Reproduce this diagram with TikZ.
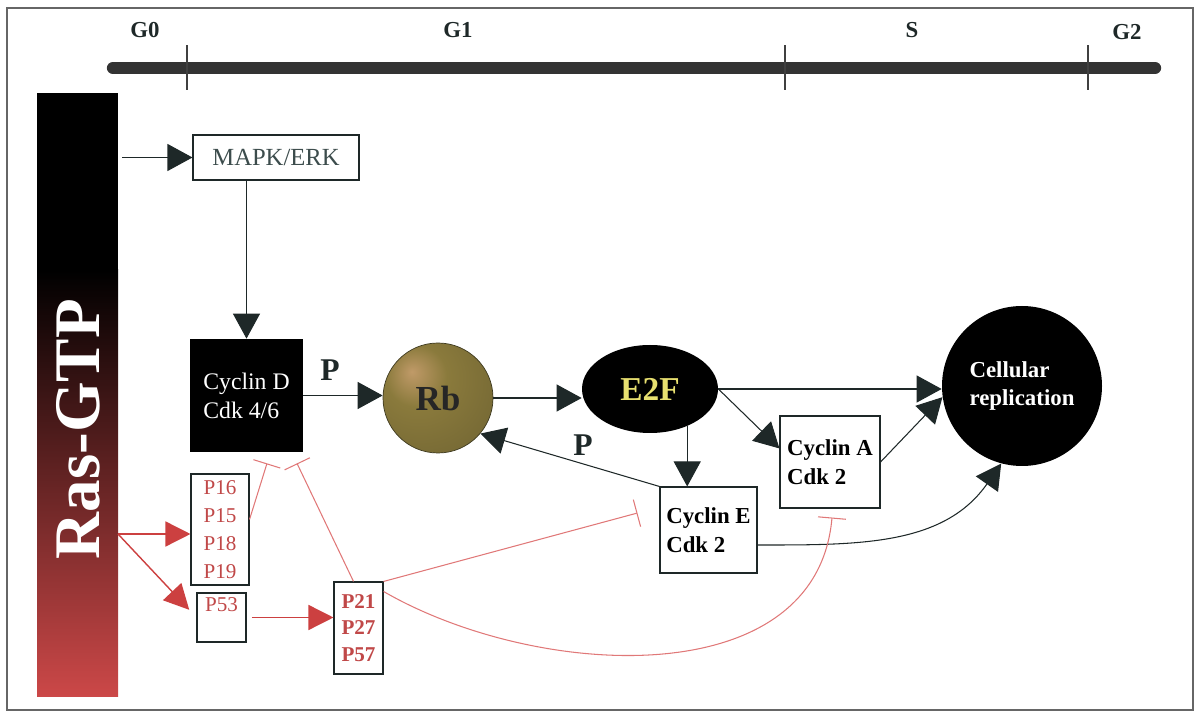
\documentclass[tikz,border=0pt]{standalone}
\usepackage{fontspec}
\setmainfont{Liberation Serif}
\usepackage{tikz}
\usetikzlibrary{arrows.meta,shapes.geometric}

\definecolor{inkdark}{HTML}{1E2828}
\definecolor{mapkgrey}{HTML}{3C4C4C}
\definecolor{redtxt}{HTML}{C04848}
\definecolor{redarr}{HTML}{CC4040}
\definecolor{pinkline}{HTML}{E07878}
\definecolor{rbhi}{HTML}{C09A68}
\definecolor{rbmid}{HTML}{8A7A3C}
\definecolor{rbdark}{HTML}{3E3A20}
\definecolor{e2fyellow}{HTML}{E8E070}
\definecolor{rasred}{HTML}{CC4848}
\definecolor{rasmid}{HTML}{5A1212}
\pgfdeclareradialshading{rbball}{\pgfpoint{-12bp}{12bp}}{color(0bp)=(rbhi); color(14bp)=(rbmid); color(40bp)=(rbmid!70!rbdark); color(62bp)=(rbdark); color(80bp)=(rbdark)}

\begin{document}
\begin{tikzpicture}[
  act/.style={draw=inkdark, line width=0.6pt, -{Triangle[length=0.5cm,width=0.54cm]}},
  redact/.style={draw=redarr, line width=0.8pt, -{Triangle[length=0.5cm,width=0.5cm]}},
  inhib/.style={draw=pinkline, line width=0.6pt, -{Bar[width=0.56cm,line width=0.6pt]}},
  box/.style={draw=inkdark, line width=0.6pt, rectangle, inner sep=2pt},
  redbox/.style={box, text=redtxt, align=center, font=\fontsize{12}{16}\selectfont},
  cyclin/.style={box, align=left, font=\bfseries\fontsize{13}{16.5}\selectfont},
  phase/.style={font=\bfseries\fontsize{13}{15}\selectfont, text=inkdark},
  plabel/.style={font=\bfseries\fontsize{18}{20}\selectfont, text=inkdark}
]
\useasboundingbox (0,0) rectangle (23.98,14.4);
\draw[black!60, line width=0.8pt] (0.14,0.2) rectangle (23.86,14.24);

% cell cycle phases
\draw[black!80, line width=7pt, line cap=round] (2.26,13.04) -- (23.1,13.04);
\foreach \x in {3.74,15.7,21.76}
  \draw[black!75, line width=0.6pt] (\x,12.6) -- (\x,13.5);
\node[phase] (g0) at (2.9,13.8) {G0};
\node[phase] (g1) at (9.16,13.8) {G1};
\node[phase] (s) at (18.24,13.8) {S};
\node[phase] (g2) at (22.54,13.76) {G2};

% Ras-GTP bar
\fill[black] (0.74,8.98) rectangle (2.36,12.54);
\shade[top color=black, middle color=rasmid, bottom color=rasred] (0.74,0.46) rectangle (2.36,9.0);
\node[rotate=90, text=white, font=\bfseries\fontsize{37}{40}\selectfont] (ras) at (1.56,5.82) {Ras-GTP};
\coordinate (rasmapk) at (2.44,11.25);
\coordinate (rasp) at (2.36,3.72);

% nodes
\node[box, text=mapkgrey, minimum width=3.32cm, minimum height=0.9cm, font=\fontsize{14}{16}\selectfont] (mapk) at (5.52,11.25) {MAPK/ERK};
\node[fill=black, minimum size=2.26cm, align=left, text=white, font=\fontsize{13.5}{16.5}\selectfont] (cycd) at (4.93,6.49) {Cyclin D\\Cdk 4/6};
\node[circle, shading=rbball, draw=rbdark, minimum size=2.2cm, text=black!85, font=\bfseries\fontsize{20}{22}\selectfont] (rb) at (8.76,6.44) {Rb};
\node[ellipse, fill=black, minimum width=2.72cm, minimum height=1.76cm, text=e2fyellow, font=\bfseries\fontsize{19}{21}\selectfont] (e2f) at (13.0,6.62) {E2F};
\node[cyclin, minimum width=1.94cm, minimum height=1.72cm] (cyce) at (14.17,3.8) {Cyclin E\\Cdk 2};
\node[cyclin, minimum width=2.0cm, minimum height=1.84cm] (cyca) at (16.6,5.16) {Cyclin A\\Cdk 2};
\node[circle, fill=black, minimum size=3.2cm, text=white, align=left, font=\bfseries\fontsize{13}{16}\selectfont] (cell) at (20.44,6.68) {Cellular\\replication};
\node[redbox, minimum width=1.16cm, minimum height=2.22cm] (p16) at (4.4,3.81) {P16\\P15\\P18\\P19};
\node[redbox, minimum width=0.98cm, minimum height=0.98cm, text depth=0.5cm] (p53) at (4.43,2.05) {P53};
\node[redbox, minimum width=0.98cm, minimum height=1.84cm, font=\bfseries\fontsize{12}{15}\selectfont] (p21) at (7.17,1.84) {P21\\P27\\P57};

% activation
\draw[act] (rasmapk) -- (mapk.west);
\draw[act] (mapk.south -| cycd.north) -- (cycd.north);
\draw[act] (cycd.east) -- (cycd.east -| rb.west);
\node[plabel] (pd) at (6.6,7.0) {P};
\draw[act] (rb.east) -- (rb.east -| e2f.west);
\draw[act] (e2f.-45) -- (e2f.-45 |- cyce.north);
\draw[act] (cyce.north west) -- (rb.-40);
\node[plabel] (pe) at (11.66,5.5) {P};
\draw[act] (e2f.east) -- (e2f.east -| cell.west);
\draw[act] (e2f.east) -- (cyca.165);
\draw[act] (cyca.east) -- (cell.188);
\draw[act] ([yshift=-0.3cm]cyce.east) to[out=0, in=235] (cell.255);

% red arrows
\draw[redact] (rasp) -- (rasp -| p16.west);
\draw[redact, shorten >=6pt] (rasp) -- (p53.west);
\draw[redact, shorten <=3pt] (p53.east) -- (p53.east -| p21.west);

% inhibition
\draw[inhib] ([yshift=0.2cm]p16.east) -- ([xshift=0.41cm,yshift=-0.22cm]cycd.south);
\draw[inhib] ([xshift=-0.1cm]p21.north) -- ([xshift=1.01cm,yshift=-0.22cm]cycd.south);
\draw[inhib] (p21.north east) -- ([xshift=-0.44cm,yshift=0.34cm]cyce.west);
\draw[inhib] ([yshift=-0.2cm]p21.north east) to[out=-30, in=-95] ([xshift=0.04cm,yshift=-0.18cm]cyca.south);
\end{tikzpicture}
\end{document}
